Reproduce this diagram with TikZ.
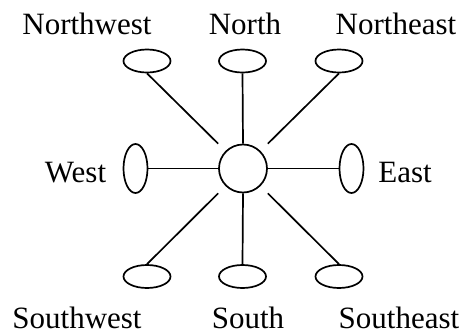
\documentclass[tikz,border=0pt]{standalone}
\usepackage{fontspec}
\setmainfont{Liberation Serif}
\usetikzlibrary{shapes.geometric}
\begin{document}
\begin{tikzpicture}[x=1pt,y=-1pt,line width=1.7pt,
  hell/.style={draw,ellipse,inner sep=0pt,minimum width=47pt,minimum height=23pt},
  vell/.style={draw,ellipse,inner sep=0pt,minimum width=24pt,minimum height=49pt},
  hub/.style={draw,circle,inner sep=0pt,minimum size=48pt},
  lbl/.style={anchor=base,inner sep=0pt,font=\fontsize{31}{37}\selectfont}]
\useasboundingbox (0,0) rectangle (472,335);
\node[hub] (c) at (243,168.5) {};
\node[hell] (nw) at (147,61) {};
\node[hell] (n) at (242.5,61) {};
\node[hell] (ne) at (339,61) {};
\node[vell] (w) at (135.5,168.5) {};
\node[vell] (e) at (351.5,168.5) {};
\node[hell] (sw) at (147,276.5) {};
\node[hell] (s) at (242.5,276.5) {};
\node[hell] (se) at (339,276.5) {};
\draw (nw.south) -- (c.west |- c.north);
\draw (n.south) -- (c.north);
\draw (ne.south) -- (c.east |- c.north);
\draw (w.east) -- (c.west);
\draw (e.west) -- (c.east);
\draw (sw.north) -- (c.west |- c.south);
\draw (s.north) -- (c.south);
\draw (se.north) -- (c.east |- c.south);
\node[lbl] (tnw) at (87,34) {Northwest};
\node[lbl] (tn) at (245,34) {North};
\node[lbl] (tne) at (396,34) {Northeast};
\node[lbl] (tw) at (75.5,182) {West};
\node[lbl] (te) at (405,182) {East};
\node[lbl] (tsw) at (77,328) {Southwest};
\node[lbl] (ts) at (248,328) {South};
\node[lbl] (tse) at (399,328) {Southeast};
\end{tikzpicture}
\end{document}
